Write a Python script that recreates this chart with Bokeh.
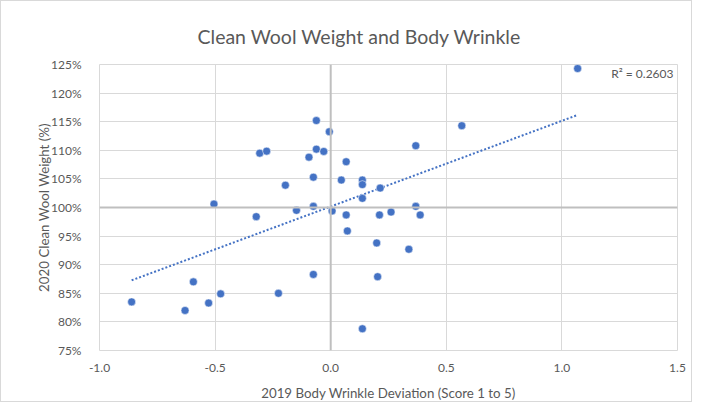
import numpy as np
from bokeh.plotting import figure
from bokeh.models import (FixedTicker, PrintfTickFormatter, NumeralTickFormatter,
                          Span, Label, Range1d)
from bokeh.embed import file_html
from bokeh.resources import INLINE

# Data
wrinkle_dev = [-0.062, -0.006, -0.307, -0.277, -0.062, -0.030, -0.094, 0.067,
               -0.196, -0.075, 0.046, 0.137, 0.137, 0.214, 0.137, -0.505,
               -0.075, 0.006, -0.148, -0.322, 0.067, 0.211, 0.261, 1.068,
               0.567, 0.368, 0.368, 0.387, -0.861, -0.594, -0.630, -0.528,
               -0.476, -0.226, -0.075, 0.072, 0.199, 0.203, 0.137, 0.338]
wool_weight = [115.2, 113.25, 109.5, 109.85, 110.2, 109.8, 108.8, 108.0,
               103.9, 105.3, 104.8, 104.8, 104.0, 103.4, 101.6, 100.6,
               100.2, 99.4, 99.5, 98.4, 98.7, 98.7, 99.2, 124.3,
               114.3, 110.8, 100.2, 98.7, 83.5, 87.0, 82.0, 83.3,
               84.9, 85.0, 88.3, 95.9, 93.8, 87.9, 78.8, 92.7]
x_ticks = [-1.0, -0.5, 0.0, 0.5, 1.0, 1.5]
y_ticks = [75, 80, 85, 90, 95, 100, 105, 110, 115, 120, 125]
title_text = "Clean Wool Weight and Body Wrinkle"
r2_text = "R\u00b2 = 0.2603"

TEXT = "#595959"
GRID = "#d9d9d9"
BLUE = "#4472C4"
FONT = "Lato"

p = figure(width=692, height=402, output_backend="svg", toolbar_location=None,
           x_range=Range1d(-1.0, 1.5), y_range=Range1d(75, 125),
           min_border_left=98, min_border_top=63, min_border_right=16,
           min_border_bottom=50, title=title_text)
p.styles = {"border": "1px solid #d9d9d9"}

p.title.align = "left"
p.title.offset = 98
p.title.vertical_align = "top"
p.title.standoff = 30
p.title.text_font = FONT
p.title.text_font_size = "19.5px"
p.title.text_font_style = "normal"
p.title.text_color = TEXT

p.outline_line_color = GRID
p.background_fill_color = "white"
p.border_fill_color = "white"

for ax in (p.xaxis[0], p.yaxis[0]):
    ax.axis_line_color = None
    ax.major_tick_line_color = None
    ax.minor_tick_line_color = None
    ax.major_label_text_font = FONT
    ax.major_label_text_font_size = "12px"
    ax.major_label_text_color = TEXT
    ax.axis_label_text_font = FONT
    ax.axis_label_text_font_size = "13.3px"
    ax.axis_label_text_font_style = "normal"
    ax.axis_label_text_color = TEXT

p.xaxis.ticker = FixedTicker(ticks=x_ticks)
p.xaxis.formatter = NumeralTickFormatter(format="0.0")
p.xaxis.axis_label = "2019 Body Wrinkle Deviation (Score 1 to 5)"
p.xaxis.major_label_standoff = 7
p.xaxis.axis_label_standoff = 10

p.yaxis.ticker = FixedTicker(ticks=y_ticks)
p.yaxis.formatter = PrintfTickFormatter(format="%d%%")
p.yaxis.axis_label = "2020 Clean Wool Weight (%)"
p.yaxis.major_label_standoff = 12
p.yaxis.axis_label_standoff = -4

p.xgrid.ticker = FixedTicker(ticks=x_ticks)
p.ygrid.ticker = FixedTicker(ticks=y_ticks)
p.xgrid.grid_line_color = GRID
p.ygrid.grid_line_color = GRID
p.xgrid.grid_line_width = 1
p.ygrid.grid_line_width = 1

# crossing axes at x=0 and y=100%
p.add_layout(Span(location=0, dimension="height", line_color="#bfbfbf", line_width=2))
p.add_layout(Span(location=100, dimension="width", line_color="#bfbfbf", line_width=2))

# linear trendline
xs = np.array(wrinkle_dev)
ys = np.array(wool_weight)
m, b = np.polyfit(xs, ys, 1)
tx = np.array([xs.min(), xs.max()])
p.line(tx, m * tx + b, line_color=BLUE, line_width=2, line_dash="2 2")

p.scatter(wrinkle_dev, wool_weight, size=8, fill_color=BLUE, line_color="white",
          line_width=0.5)

p.add_layout(Label(x=1.5, y=125, x_offset=-4, y_offset=-9, text=r2_text,
                   text_align="right", text_baseline="middle",
                   text_font=FONT, text_font_size="12px", text_color=TEXT))

open("out.html", "w").write(file_html(p, INLINE))
